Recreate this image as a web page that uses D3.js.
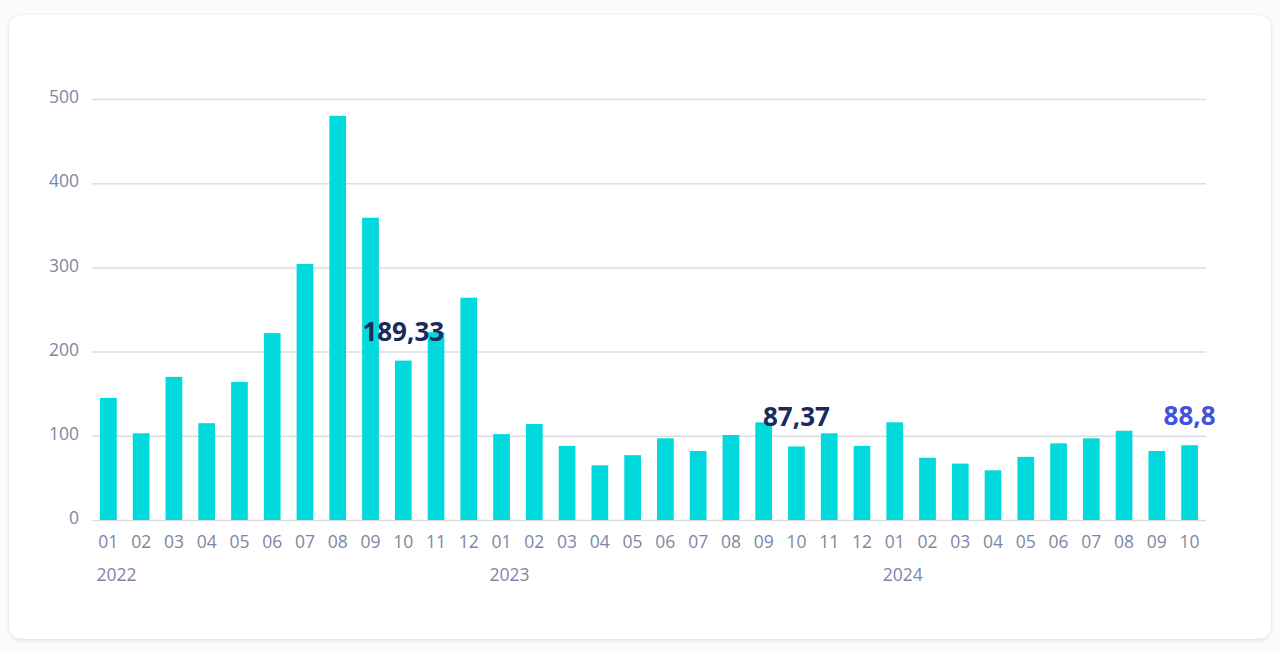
<!DOCTYPE html>
<html>
<head>
<meta charset="utf-8">
<script src="https://cdn.jsdelivr.net/npm/d3@7"></script>
<style>
  html, body { margin: 0; padding: 0; background: #fbfbfc; }
  body { width: 1280px; height: 654px; position: relative; overflow: hidden; font-family: "Open Sans", sans-serif; }
  #card {
    position: absolute; left: 9px; top: 15px; width: 1262px; height: 624px;
    background: #fff; border-radius: 13px;
    box-shadow: 0 1px 4px rgba(0, 0, 0, 0.13);
  }
  #canvas { position: absolute; left: 0; top: 0; }
</style>
</head>
<body>
<div id="card"></div>
<div id="canvas"></div>
<script>
// Monthly values, Jan 2022 – Oct 2024
const years = ["2022", "2023", "2024"];
const months = ["01","02","03","04","05","06","07","08","09","10","11","12"];
const values2022 = [145, 103, 170, 115, 164, 222, 304, 480, 359, 189.33, 223, 264];
const values2023 = [102, 114, 88, 65, 77, 97, 82, 101, 116, 87.37, 103, 88];
const values2024 = [116, 74, 67, 59, 75, 91, 97, 106, 82, 88.8];
const yTicks = [0, 100, 200, 300, 400, 500];
// which points get a value label
const highlights = [
  { key: "2022-10", text: "189,33", color: "#1b2a5e" },
  { key: "2023-10", text: "87,37", color: "#1b2a5e" },
  { key: "2024-10", text: "88,8", color: "#4152de" }
];

const data = [];
[values2022, values2023, values2024].forEach((vals, i) => {
  vals.forEach((v, j) => data.push({ year: years[i], month: months[j], key: `${years[i]}-${months[j]}`, value: v }));
});

const width = 1280, height = 654;
const margin = { left: 92, right: 74, top: 99, bottom: 134 };

const svg = d3.select("#canvas").append("svg")
  .attr("width", width)
  .attr("height", height);

const x = d3.scaleBand()
  .domain(data.map(d => d.key))
  .range([margin.left, width - margin.right])
  .paddingInner(0.49)
  .paddingOuter(0.245);

const y = d3.scaleLinear()
  .domain([0, 500])
  .range([height - margin.bottom, margin.top]);

// grid lines
svg.append("g")
  .selectAll("line")
  .data(yTicks)
  .join("line")
  .attr("x1", margin.left)
  .attr("x2", width - margin.right)
  .attr("y1", d => y(d) + 0.5)
  .attr("y2", d => y(d) + 0.5)
  .attr("stroke", "#dddddf")
  .attr("stroke-width", 1.5);

// y labels
svg.append("g")
  .selectAll("text")
  .data(yTicks)
  .join("text")
  .attr("x", 79)
  .attr("y", d => y(d) - 2)
  .attr("dy", "0.35em")
  .attr("text-anchor", "end")
  .attr("fill", "#7d87a5")
  .attr("font-size", "17.5px")
  .text(d => d);

// bars
svg.append("g")
  .selectAll("rect")
  .data(data)
  .join("rect")
  .attr("x", d => x(d.key))
  .attr("y", d => y(d.value))
  .attr("width", x.bandwidth())
  .attr("height", d => y(0) - y(d.value))
  .attr("fill", "#00dadc");

// month labels
svg.append("g")
  .selectAll("text")
  .data(data)
  .join("text")
  .attr("x", d => x(d.key) + x.bandwidth() / 2)
  .attr("y", 548)
  .attr("text-anchor", "middle")
  .attr("fill", "#7d87a5")
  .attr("font-size", "17.5px")
  .text(d => d.month);

// year labels under each January
svg.append("g")
  .selectAll("text")
  .data(data.filter(d => d.month === "01"))
  .join("text")
  .attr("x", d => x(d.key) + x.bandwidth() / 2 - 12)
  .attr("y", 581)
  .attr("fill", "#7d87a5")
  .attr("font-size", "17.5px")
  .text(d => d.year);

// highlighted value labels
const byKey = new Map(data.map(d => [d.key, d]));
svg.append("g")
  .selectAll("text")
  .data(highlights)
  .join("text")
  .attr("x", d => x(d.key) + x.bandwidth() / 2)
  .attr("y", d => y(byKey.get(d.key).value) - 20)
  .attr("text-anchor", "middle")
  .attr("fill", d => d.color)
  .attr("font-size", "26px")
  .attr("font-weight", "bold")
  .text(d => d.text);
</script>
</body>
</html>
